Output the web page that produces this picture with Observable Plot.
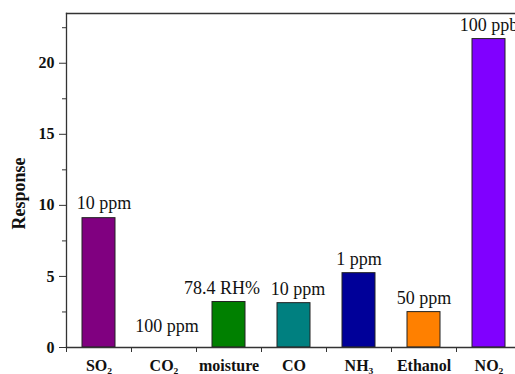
<!DOCTYPE html>
<html>
<head>
<meta charset="utf-8">
<script src="https://cdn.jsdelivr.net/npm/d3@7"></script>
<script src="https://cdn.jsdelivr.net/npm/@observablehq/plot@0.6"></script>
<style>
  html, body { margin: 0; padding: 0; background: #fff; overflow: hidden; }
  #chart svg { display: block; }
</style>
</head>
<body>
<div id="chart"></div>
<script>
const gases = ["SO₂", "CO₂", "moisture", "CO", "NH₃", "Ethanol", "NO₂"];
const responses = [9.1, 0, 3.2, 3.12, 5.23, 2.49, 21.7];
const concentrations = ["10 ppm", "100 ppm", "78.4 RH%", "10 ppm", "1 ppm", "50 ppm", "100 ppb"];
const barColors = ["#800080", "none", "#008000", "#008080", "#000099", "#ff8000", "#8000ff"];
const majorTicks = [0, 5, 10, 15, 20];
const minorTicks = [2.5, 7.5, 12.5, 17.5, 22.5];

const data = gases.map((g, i) => ({gas: g, response: responses[i], label: concentrations[i], color: barColors[i]}));

const serif = "'Liberation Serif', 'Times New Roman', serif";

// label offsets (style only): nudge crowded labels apart
const labelMark = (filter, dx, dy) => Plot.text(data.filter(filter), {
  x: "gas", y: "response", text: "label", dx, dy, lineAnchor: "bottom",
  fontSize: 18, fill: "#111"
});

const chart = Plot.plot({
  width: 515,
  height: 374,
  marginLeft: 66,
  marginTop: 13,
  marginBottom: 27,
  marginRight: 0,
  style: {fontFamily: serif, background: "#fff", overflow: "visible"},
  x: {domain: gases, range: [66, 521], padding: 0, label: null},
  y: {domain: [0, 23.5], label: null},
  marks: [
    Plot.barY(data.filter(d => d.response > 0), {
      x: "gas", y: "response", fill: "color", stroke: "#222", strokeWidth: 1,
      insetLeft: 16, insetRight: 16
    }),
    labelMark(d => ["SO₂"].includes(d.gas), 5, -9),
    labelMark(d => d.gas === "CO₂", 3, -16),
    labelMark(d => d.gas === "moisture", -7, -8),
    labelMark(d => d.gas === "CO", 4, -8),
    labelMark(d => ["NH₃", "Ethanol", "NO₂"].includes(d.gas), 0, -8),
    Plot.frame({anchor: "top", stroke: "#333", strokeWidth: 1.3}),
    Plot.frame({anchor: "left", stroke: "#333", strokeWidth: 1.3}),
    Plot.frame({anchor: "bottom", stroke: "#333", strokeWidth: 1.3}),
    Plot.axisY({ticks: majorTicks, tickSize: 7, tickPadding: 5, fontSize: 16, fontWeight: "bold", stroke: "#333", fill: "#111", label: null}),
    Plot.axisY({ticks: minorTicks, tickSize: 4, text: null, stroke: "#333", label: null}),
    Plot.axisX({tickSize: 5, text: null, dx: -32.5, stroke: "#333", label: null}),
    Plot.axisX({tickSize: 0, tickPadding: 12, fontSize: 16, fontWeight: "bold", fill: "#111", label: null}),
    Plot.text(["Response"], {frameAnchor: "left", textAnchor: "middle", dx: -47, dy: 13, rotate: -90, fontSize: 18, fontWeight: "bold", fill: "#111"})
  ]
});
document.getElementById("chart").appendChild(chart);
</script>
</body>
</html>
